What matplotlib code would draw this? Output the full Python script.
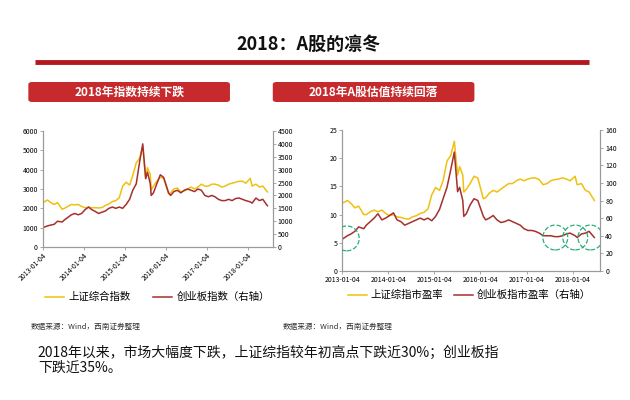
import matplotlib
matplotlib.use("Agg")
import matplotlib.pyplot as plt
import matplotlib.dates as mdates
from matplotlib.patches import FancyBboxPatch
import numpy as np
import pandas as pd

plt.rcParams['font.family'] = ['Noto Sans CJK SC', 'DejaVu Sans']

# dates shared by all four series
dates = pd.to_datetime([
    "2013-01-04", "2013-02-15", "2013-03-15", "2013-04-15", "2013-05-15", "2013-06-25",
    "2013-07-15", "2013-08-15", "2013-09-15", "2013-10-15", "2013-11-15", "2013-12-15",
    "2014-01-15", "2014-02-15", "2014-03-15", "2014-04-15", "2014-05-15", "2014-06-15",
    "2014-07-15", "2014-08-15", "2014-09-15", "2014-10-15", "2014-11-15", "2014-12-15",
    "2015-01-15", "2015-02-15", "2015-03-15", "2015-04-15", "2015-05-15", "2015-06-12",
    "2015-07-08", "2015-07-24", "2015-08-18", "2015-08-26", "2015-09-15", "2015-10-15",
    "2015-11-15", "2015-12-15",
    "2016-01-28", "2016-02-15", "2016-03-15", "2016-04-15", "2016-05-15", "2016-06-15",
    "2016-07-15", "2016-08-15", "2016-09-15", "2016-10-15", "2016-11-15", "2016-12-15",
    "2017-01-15", "2017-02-15", "2017-03-15", "2017-04-15", "2017-05-15", "2017-06-15",
    "2017-07-15", "2017-08-15", "2017-09-15", "2017-10-15", "2017-11-15", "2017-12-15",
    "2018-01-24", "2018-02-09", "2018-03-15", "2018-04-15", "2018-05-15", "2018-06-25",
])

# 上证综合指数
sh_index = [2300, 2430, 2300, 2200, 2300, 1950, 2000, 2100, 2200, 2180, 2200, 2100,
            2030, 2050, 2030, 2030, 2020, 2040, 2150, 2230, 2350, 2400, 2550, 3150,
            3350, 3200, 3700, 4350, 4600, 5170, 3550, 4100, 3750, 2950, 3150, 3400, 3600, 3550,
            2750, 2800, 3000, 3050, 2850, 2900, 3000, 3100, 3000, 3100, 3250, 3150,
            3150, 3250, 3250, 3200, 3100, 3150, 3250, 3300, 3350, 3400, 3400, 3300,
            3550, 3150, 3250, 3100, 3150, 2850]

# 创业板指数 (right axis)
cy_index = [750, 820, 850, 880, 1000, 970, 1050, 1150, 1250, 1300, 1250, 1300,
            1450, 1550, 1450, 1380, 1300, 1350, 1400, 1500, 1550, 1500, 1550, 1500,
            1650, 1850, 2200, 2450, 3300, 4000, 2650, 2900, 2450, 2000, 2100, 2450, 2800, 2700,
            2100, 2000, 2150, 2200, 2100, 2200, 2250, 2200, 2150, 2250, 2200, 2000,
            1950, 2000, 1950, 1850, 1800, 1800, 1850, 1800, 1880, 1900, 1850, 1800,
            1750, 1700, 1900, 1800, 1850, 1600]

# 上证综指市盈率
sh_pe = [12, 12.5, 12, 11.2, 11.5, 10, 10, 10.5, 10.8, 10.5, 10.8, 10.2,
         9.8, 10, 9.6, 9.5, 9.3, 9.2, 9.6, 9.8, 10.2, 10.4, 11, 13.5,
         14.8, 14.3, 16, 19.5, 20.5, 23, 17, 18.5, 17, 14, 14.5, 15.5, 16.8, 16.5,
         12.8, 13, 13.8, 14.3, 14, 14.5, 15, 15.5, 15.5, 16, 16.3, 16,
         16.3, 16.5, 16.5, 16.2, 15.3, 15.5, 16, 16.2, 16.3, 16.5, 16.3, 16,
         16.8, 15.3, 15.5, 14.3, 14, 12.5]

# 创业板指市盈率 (right axis)
cy_pe = [36, 40, 42, 45, 50, 48, 52, 56, 60, 65, 58, 60,
         63, 66, 58, 56, 52, 54, 56, 58, 60, 58, 60, 57,
         62, 70, 82, 95, 115, 135, 90, 95, 80, 62, 65, 75, 82, 80,
         62, 58, 60, 63, 58, 55, 56, 58, 56, 54, 52, 48,
         46, 46, 45, 43, 40, 40, 40, 39, 39, 40, 42, 43,
         40, 38, 42, 43, 45, 38]

# green dashed circles marking low ChiNext PE
circle_dates = pd.to_datetime(["2013-02-10", "2017-08-20", "2018-01-25", "2018-05-25"])
circle_pe = [37, 38, 38, 38]

year_ticks = pd.to_datetime(["2013-01-04", "2014-01-04", "2015-01-04",
                             "2016-01-04", "2017-01-04", "2018-01-04"])
x_end = pd.Timestamp("2018-08-12")

YELLOW = "#F0C010"
RED = "#A5302E"
GRAY = "#9A9A9A"
BANNER = "#C62A2C"

fig = plt.figure(figsize=(6.3, 4), dpi=100)
fig.patch.set_facecolor("white")

# title + red rule
fig.text(0.49, 0.89, "2018：A股的凛冬", ha="center", va="center",
         fontsize=13, fontweight="bold", color="#111111")
fig.add_artist(plt.Line2D([0.055, 0.935], [0.845, 0.845], color="#B3191E",
                          lw=3.5, solid_capstyle="butt"))

# section banners
for x0, label in [(0.045, "2018年指数持续下跌"), (0.433, "2018年A股估值持续回落")]:
    fig.add_artist(FancyBboxPatch((x0, 0.745), 0.32, 0.05,
                                  boxstyle="round,pad=0,rounding_size=0.006",
                                  transform=fig.transFigure, facecolor=BANNER,
                                  edgecolor="none"))
    fig.text(x0 + 0.16, 0.77, label, ha="center", va="center", color="white",
             fontsize=8.5, fontweight="bold")


def style_axes(ax, axr):
    for a in (ax, axr):
        a.spines["top"].set_visible(False)
        for s in ("left", "right", "bottom"):
            a.spines[s].set_color(GRAY)
            a.spines[s].set_linewidth(0.8)
        a.tick_params(labelsize=5, length=2, width=0.6, color=GRAY, pad=1.5)
    ax.set_xticks(year_ticks)
    ax.xaxis.set_major_formatter(mdates.DateFormatter("%Y-%m-%d"))
    ax.set_xlim(pd.Timestamp("2013-01-04"), x_end)


# left chart: indices
ax1 = fig.add_axes([0.068, 0.3825, 0.365, 0.29])
ax1r = ax1.twinx()
l1, = ax1.plot(dates, sh_index, color=YELLOW, lw=1.1, label="上证综合指数")
l2, = ax1r.plot(dates, cy_index, color=RED, lw=1.1, label="创业板指数（右轴）")
ax1.set_ylim(0, 6000)
ax1.set_yticks(range(0, 6001, 1000))
ax1r.set_ylim(0, 4500)
ax1r.set_yticks(range(0, 4501, 500))
style_axes(ax1, ax1r)
plt.setp(ax1.get_xticklabels(), rotation=45, ha="right", rotation_mode="anchor")
fig.legend(handles=[l1, l2], loc="center", bbox_to_anchor=(0.25, 0.257), ncol=2,
           frameon=False, fontsize=7.5, handlelength=1.8, columnspacing=2.2,
           handletextpad=0.4)

# right chart: PE
ax2 = fig.add_axes([0.543, 0.3225, 0.41, 0.3525])
ax2r = ax2.twinx()
l3, = ax2.plot(dates, sh_pe, color=YELLOW, lw=1.1, label="上证综指市盈率")
l4, = ax2r.plot(dates, cy_pe, color=RED, lw=1.1, label="创业板指市盈率（右轴）")
ax2r.scatter(circle_dates, circle_pe, s=320, facecolors="none", edgecolors="#2BAE7A",
             linestyles="--", linewidths=0.9, zorder=5)
ax2.set_ylim(0, 25)
ax2.set_yticks(range(0, 26, 5))
ax2r.set_ylim(0, 160)
ax2r.set_yticks(range(0, 161, 20))
style_axes(ax2, ax2r)
fig.legend(handles=[l3, l4], loc="center", bbox_to_anchor=(0.745, 0.262), ncol=2,
           frameon=False, fontsize=7.5, handlelength=1.8, columnspacing=1.0,
           handletextpad=0.4)

# sources
for x0 in (0.048, 0.448):
    fig.text(x0, 0.183, "数据来源：Wind，西南证券整理", fontsize=5.5, style="italic",
             color="#333333", va="center")

# conclusion text
fig.text(0.06, 0.1, "2018年以来，市场大幅度下跌，上证综指较年初高点下跌近30%；创业板指\n下跌近35%。",
         fontsize=10, color="#111111", va="center", linespacing=1.1)

fig.savefig("out.png", dpi=100)
